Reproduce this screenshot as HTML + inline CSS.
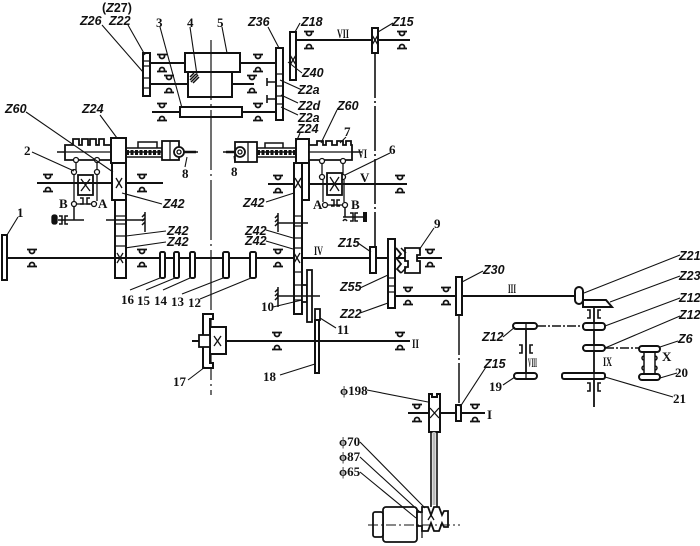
<!DOCTYPE html>
<html><head><meta charset="utf-8"><style>
html,body{margin:0;padding:0;background:#fff;}
svg{display:block;}
text{font-family:"Liberation Sans",sans-serif;font-weight:bold;font-size:12.5px;fill:#111;}
.r{font-family:"Liberation Serif",serif;font-weight:bold;font-size:13px;}
.z{font-style:italic;}
</style></head><body>
<svg width="700" height="546" viewBox="0 0 700 546" xmlns="http://www.w3.org/2000/svg">
<defs>
<g id="b" fill="none" stroke="#111" stroke-width="1.8"><path d="M-5,-8.5h10M-2.5,-8.5v1.5a2.5,2.5 0 0 0 5,0v-1.5M-5,8.5h10M-2.5,8.5v-1.5a2.5,2.5 0 0 1 5,0v1.5"/></g>
<g id="c" fill="none" stroke="#111" stroke-width="1.6"><path d="M-7,-4h3v8h-3M7,-4h-3v8h3"/></g>
</defs>
<g stroke="#111" fill="none" stroke-width="1.3">
<!-- ===== TOP ===== -->
<line x1="150" y1="63" x2="185" y2="63" stroke-width="2"/>
<line x1="237" y1="63" x2="276" y2="63" stroke-width="2"/>
<line x1="150" y1="84" x2="188" y2="84" stroke-width="2"/>
<line x1="232" y1="84" x2="254" y2="84" stroke-width="2"/>
<line x1="152" y1="112" x2="180" y2="112" stroke-width="2"/>
<line x1="242" y1="112" x2="276" y2="112" stroke-width="2"/>
<rect x="143" y="53" width="7" height="43" fill="#fff" stroke-width="2"/>
<path d="M143,61h7M143,66h7M143,78h7M143,88h7"/>
<rect x="185" y="53" width="55" height="19" fill="#fff" stroke-width="2"/>
<rect x="188" y="72" width="44" height="25" fill="#fff" stroke-width="2"/>
<path d="M190,80l6,-6M191,82l7,-7M193,83l6,-6M190,77l4,-4" stroke-width="1.5"/>
<rect x="180" y="107" width="62" height="10" fill="#fff" stroke-width="2"/>
<!-- Z36 / Z18 -->
<rect x="276" y="48" width="7" height="72" fill="#fff" stroke-width="2"/>
<path d="M276,74h7M276,86h7M276,96h7M276,104h7"/>
<path d="M267,82h9M267,78v8M267,99h9M267,95v8" stroke-width="1.6"/>
<rect x="290" y="32" width="6" height="48" fill="#fff" stroke-width="2"/>
<path d="M290,55l6,10M296,55l-6,10"/>
<line x1="296" y1="40" x2="410" y2="40" stroke-width="2"/>
<rect x="372" y="28" width="6" height="25" fill="#fff" stroke-width="2"/>
<path d="M372,35l6,10M378,35l-6,10"/>
<line x1="375" y1="53" x2="375" y2="247" stroke-width="1.6" stroke-dasharray="45 3 2 3"/>
<!-- center line -->
<line x1="211" y1="40" x2="211" y2="395" stroke-width="1.2" stroke-dasharray="60 4 2 4"/>

<!-- ===== LEFT FEED ROD ===== -->
<line x1="57" y1="152" x2="198" y2="152" stroke-width="1.5"/>
<path d="M65,145h8v-6h6v6h3v-6h6v6h2v-6h6v6h3v-6h5v6h7v15h-46z" fill="#fff" stroke-width="1.8"/>
<line x1="65" y1="152" x2="111" y2="152" stroke-width="1.3"/>
<rect x="111" y="138" width="15" height="25" fill="#fff" stroke-width="2"/>
<path d="M126,148h36M126,157h36" stroke-width="1.5"/>
<line x1="126" y1="152.5" x2="162" y2="152.5" stroke-width="5" stroke-dasharray="3 1.5"/>
<path d="M138,148v-6h19v6" stroke-width="1.5"/>
<rect x="162" y="141" width="17" height="19" fill="#fff" stroke-width="1.8"/>
<line x1="170" y1="141" x2="170" y2="160"/>
<circle cx="179" cy="152" r="5" fill="#fff" stroke-width="1.8"/>
<circle cx="179" cy="152" r="2"/>
<line x1="184" y1="152" x2="196" y2="152" stroke-width="2.5"/>
<circle cx="76" cy="160" r="2.5" fill="#fff"/><circle cx="97" cy="160" r="2.5" fill="#fff"/>
<path d="M76,162v8M97,162v8"/>
<circle cx="74" cy="172" r="2.5" fill="#fff"/><circle cx="97" cy="172" r="2.5" fill="#fff"/>
<path d="M74,175v26M97,175v26"/>
<rect x="78" y="175" width="15" height="20" fill="#fff" stroke-width="1.8"/>
<path d="M81,179l9,12M90,179l-9,12"/>
<circle cx="74" cy="204" r="2.5" fill="#fff"/><circle cx="94" cy="204" r="2.5" fill="#fff"/>
<path d="M77,204h14"/>
<path d="M80,198h3v6h-3M90,198h-3v6h3" stroke-width="1.5"/>
<path d="M74,207v13M58,220h26" stroke-width="1.5"/>
<rect x="52" y="215" width="5" height="9" rx="2" fill="#111"/>
<path d="M59,216h3v8h-3M68,216h-3v8h3" stroke-width="1.5"/>
<!-- shaft V left -->
<line x1="37" y1="183" x2="163" y2="183" stroke-width="2"/>
<!-- left Z42 column -->
<rect x="112" y="163" width="14" height="37" fill="#fff" stroke-width="2"/>
<rect x="115" y="200" width="11" height="78" fill="#fff" stroke-width="2"/>
<path d="M116,178l6,10M122,178l-6,10"/>
<path d="M115,216h11M115,224h11M115,236h11M115,246h11"/>
<path d="M117,253l6,10M123,253l-6,10"/>
<line x1="106" y1="220" x2="144" y2="220" stroke-width="1.5"/>
<path d="M145,212v20M145,214l-3,3M145,218l-3,3M145,222l-3,3" stroke-width="1.5"/>
<!-- shaft IV -->
<line x1="7" y1="258" x2="442" y2="258" stroke-width="2"/>
<rect x="2" y="235" width="5" height="45" fill="#fff" stroke-width="2"/>
<rect x="160" y="252" width="5" height="26" rx="1.5" fill="#fff" stroke-width="2"/>
<rect x="174" y="252" width="5" height="26" rx="1.5" fill="#fff" stroke-width="2"/>
<rect x="190" y="252" width="5" height="26" rx="1.5" fill="#fff" stroke-width="2"/>
<rect x="223" y="252" width="6" height="26" rx="1.5" fill="#fff" stroke-width="2"/>
<rect x="250" y="252" width="6" height="26" rx="1.5" fill="#fff" stroke-width="2"/>

<!-- ===== RIGHT FEED ROD ===== -->
<line x1="223" y1="152" x2="362" y2="152" stroke-width="1.5"/>
<rect x="235" y="142" width="22" height="20" fill="#fff" stroke-width="1.8"/>
<line x1="248" y1="142" x2="248" y2="162"/>
<circle cx="240" cy="152" r="5" fill="#fff" stroke-width="1.8"/>
<circle cx="240" cy="152" r="2"/>
<line x1="226" y1="152" x2="235" y2="152" stroke-width="2.5"/>
<path d="M257,148h39M257,157h39" stroke-width="1.5"/>
<line x1="257" y1="152.5" x2="296" y2="152.5" stroke-width="5" stroke-dasharray="3 1.5"/>
<path d="M265,148v-5h18v5" stroke-width="1.5"/>
<rect x="296" y="139" width="13" height="24" fill="#fff" stroke-width="2"/>
<path d="M309,145h8v-4h6v4h3v-4h6v4h5v-4h6v4h3v-4h5v4h1v15h-43z" fill="#fff" stroke-width="1.8"/>
<line x1="309" y1="152" x2="352" y2="152"/>
<circle cx="322" cy="161" r="2.5" fill="#fff"/><circle cx="343" cy="161" r="2.5" fill="#fff"/>
<path d="M322,164v11M343,164v11"/>
<circle cx="322" cy="177" r="2.5" fill="#fff"/><circle cx="343" cy="177" r="2.5" fill="#fff"/>
<path d="M323,180v22M344,180v22"/>
<rect x="327" y="173" width="15" height="22" fill="#fff" stroke-width="1.8"/>
<path d="M330,177l9,14M339,177l-9,14"/>
<circle cx="325" cy="205" r="2.5" fill="#fff"/><circle cx="345" cy="205" r="2.5" fill="#fff"/>
<path d="M328,205h14"/>
<path d="M331,200h3v6h-3M340,200h-3v6h3" stroke-width="1.5"/>
<path d="M345,208v9M343,217h20M343,221q2,-3 4,0" stroke-width="1.5"/>
<path d="M350,213h3v8h-3M358,213h-3v8h3" stroke-width="1.5"/>
<rect x="363" y="212" width="4" height="10" fill="#111" stroke="none"/>
<!-- shaft V right -->
<line x1="268" y1="184" x2="407" y2="184" stroke-width="2"/>
<!-- right Z42 column -->
<rect x="302" y="163" width="7" height="37" fill="#fff" stroke-width="2"/>
<rect x="294" y="163" width="8" height="151" fill="#fff" stroke-width="2"/>
<path d="M295,178l6,10M301,178l-6,10"/>
<path d="M294,216h8M294,226h8M294,238h8M294,248h8M294,272h8M294,285h8M294,300h8"/>
<path d="M294,253l6,10M300,253l-6,10"/>
<line x1="277" y1="223" x2="308" y2="223" stroke-width="1.5"/>
<path d="M278,213v19M278,215l-3,3M278,219l-3,3M278,223l-3,3" stroke-width="1.5"/>
<rect x="302" y="285" width="5" height="17" fill="#fff" stroke-width="1.8"/>
<rect x="307" y="270" width="5" height="52" fill="#fff" stroke-width="1.8"/>
<line x1="277" y1="296" x2="320" y2="296" stroke-width="1.5"/>
<path d="M278,287v20M278,289l-3,3M278,293l-3,3M278,297l-3,3" stroke-width="1.5"/>
<rect x="315" y="309" width="5" height="11" fill="#fff" stroke-width="1.8"/>
<rect x="315" y="320" width="4" height="53" fill="#fff" stroke-width="2"/>

<!-- shaft II -->
<line x1="192" y1="341" x2="410" y2="341" stroke-width="2"/>
<path d="M213,314h-10v54h10v-5h-3v-44h3z" fill="#fff" stroke-width="2"/>
<rect x="210" y="327" width="16" height="27" fill="#fff" stroke-width="2"/>
<path d="M214,336l7,10M221,336l-7,10"/>
<rect x="199" y="335" width="11" height="12" fill="#fff" stroke-width="1.8"/>

<!-- ===== RIGHT LOWER ===== -->
<rect x="370" y="247" width="6" height="26" fill="#fff" stroke-width="2"/>
<rect x="388" y="239" width="7" height="69" fill="#fff" stroke-width="2"/>
<path d="M388,278h7M388,286h7M388,292h7"/>
<path d="M396,248l5,6l-4,5l4,5l-4,5l4,4" stroke-width="1.8"/>
<path d="M405,248h15v7h-3v6h3v12h-15v-6h3v-6h-3z" fill="#fff" stroke-width="1.8"/>
<path d="M401,248l5,5M401,273l5,-5" stroke-width="1.5"/>
<!-- shaft III -->
<line x1="395" y1="296" x2="577" y2="296" stroke-width="2"/>
<rect x="456" y="277" width="6" height="38" fill="#fff" stroke-width="2"/>
<line x1="459" y1="315" x2="459" y2="405" stroke-width="1.5" stroke-dasharray="40 3 2 3"/>
<!-- bevel -->
<rect x="575" y="287" width="8" height="17" rx="4" fill="#fff" stroke-width="2"/>
<path d="M583,307v-7h23l6,7z" fill="#fff" stroke-width="2"/>
<use href="#c" x="594" y="314"/>
<line x1="594" y1="307" x2="594" y2="407" stroke-width="1.8"/>
<rect x="583" y="323" width="22" height="7" rx="3" fill="#fff" stroke-width="2"/>
<rect x="583" y="345" width="22" height="6" rx="3" fill="#fff" stroke-width="2"/>
<rect x="562" y="373" width="43" height="6" rx="2" fill="#fff" stroke-width="2"/>
<path d="M594,323v7M594,345v6M594,373v6"/>
<use href="#c" x="594" y="387"/>
<line x1="526" y1="323" x2="526" y2="379" stroke-width="1.8"/>
<rect x="513" y="323" width="24" height="6" rx="3" fill="#fff" stroke-width="2"/>
<rect x="514" y="373" width="23" height="6" rx="3" fill="#fff" stroke-width="2"/>
<path d="M526,323v6M526,373v6"/>
<use href="#c" x="526" y="349"/>
<line x1="537" y1="326" x2="583" y2="326" stroke-width="1.6" stroke-dasharray="9 2 2 2"/>
<line x1="605" y1="348" x2="639" y2="348" stroke-width="1.6" stroke-dasharray="9 2 2 2"/>
<rect x="639" y="346" width="21" height="6" rx="3" fill="#fff" stroke-width="2"/>
<rect x="639" y="374" width="21" height="6" rx="3" fill="#fff" stroke-width="2"/>
<path d="M644,352v22M655,352v22M644,356a2,2 0 1 0 0,4M655,356a2,2 0 1 1 0,4M644,366a2,2 0 1 0 0,4M655,366a2,2 0 1 1 0,4" stroke-width="1.5"/>

<!-- shaft I -->
<line x1="408" y1="413" x2="485" y2="413" stroke-width="2"/>
<path d="M429,394h3v3h5v-3h3v38h-11z" fill="#fff" stroke-width="2"/>
<path d="M430,408l9,10M439,408l-9,10"/>
<rect x="456" y="405" width="5" height="16" fill="#fff" stroke-width="2"/>
<path d="M431,432v75M437,432v75" stroke-width="1.6"/>
<line x1="434" y1="432" x2="434" y2="505" stroke="#bbb" stroke-width="3"/>
<!-- motor -->
<rect x="383" y="507" width="34" height="35" rx="3" fill="#fff" stroke-width="1.8"/>
<rect x="373" y="512" width="10" height="25" rx="2" fill="#fff" stroke-width="1.8"/>
<path d="M417,512h5v-5h6l3,8l3,-8h5l3,8l2,-4h4v16h-4l-2,-4l-3,8h-5l-3,-8l-3,8h-6v-5h-5z" fill="#fff" stroke-width="1.8"/>
<path d="M422,512v26M428,520l3,-5l3,5" />
<line x1="368" y1="525" x2="460" y2="525" stroke-width="1" stroke-dasharray="10 3 2 3"/>

<!-- leaders -->
<g stroke-width="1.1">
<path d="M102,25L143,72M128,25L145,55M160,27L182,108M190,27L197,75M222,27L227,53"/>
<path d="M268,27L279,48M300,23L295,32M393,23L378,32M302,73L288,62M302,90L280,80M298,103L281,95M298,115L281,107"/>
<path d="M337,110L321,143M300,133L297,140M346,137L340,143M390,153L345,175M235,163L234,156M185,167L187,157"/>
<path d="M26,112L113,172M100,115L117,138M32,152L74,171"/>
<path d="M162,204L122,193M166,231L126,236M166,242L125,248M18,217L7,235"/>
<path d="M130,290L160,278M146,290L175,278M163,290L190,278M182,294L223,278M200,299L251,278"/>
<path d="M266,202L294,193M266,230L293,238M266,241L293,249"/>
<path d="M358,243L371,252M434,228L419,250M360,288L388,275M360,313L388,303"/>
<path d="M273,307L302,300M336,328L320,318M280,375L315,364M188,380L205,367M367,390L428,402"/>
<path d="M483,271L462,282M680,255L584,293M680,276L610,302M680,298L605,326M680,316L605,348"/>
<path d="M678,341L660,347M677,373L660,378M673,397L605,377"/>
<path d="M503,337L515,327M486,367L460,407M503,385L515,377"/>
<path d="M360,442L425,508M360,457L421,513M360,472L416,518"/>
</g>
</g>
<!-- bearings -->
<use href="#b" x="162" y="63"/><use href="#b" x="169" y="84"/><use href="#b" x="162" y="112"/>
<use href="#b" x="258" y="63"/><use href="#b" x="252" y="84"/><use href="#b" x="258" y="112"/>
<use href="#b" x="309" y="40"/><use href="#b" x="402" y="40"/>
<use href="#b" x="48" y="183"/><use href="#b" x="142" y="183"/>
<use href="#b" x="278" y="184"/><use href="#b" x="400" y="184"/>
<use href="#b" x="32" y="258"/><use href="#b" x="142" y="258"/><use href="#b" x="278" y="258"/><use href="#b" x="430" y="258"/>
<use href="#b" x="408" y="296"/><use href="#b" x="446" y="296"/>
<use href="#b" x="277" y="341"/><use href="#b" x="400" y="341"/>
<use href="#b" x="417" y="413"/><use href="#b" x="475" y="413"/>

<!-- labels -->
<text x="102" y="12">(<tspan class="z">Z</tspan>27)</text>
<text x="80" y="25" class="z">Z26</text>
<text x="109" y="25" class="z">Z22</text>
<text x="156" y="27" class="r">3</text>
<text x="187" y="27" class="r">4</text>
<text x="217" y="27" class="r">5</text>
<text x="248" y="26" class="z">Z36</text>
<text x="301" y="26" class="z">Z18</text>
<text x="392" y="26" class="z">Z15</text>
<text x="337" y="38" class="r" textLength="12" lengthAdjust="spacingAndGlyphs">VII</text>
<text x="302" y="77" class="z">Z40</text>
<text x="298" y="94" class="z">Z2a</text>
<text x="298" y="110" class="z">Z2d</text>
<text x="298" y="122" class="z">Z2a</text>
<text x="337" y="110" class="z">Z60</text>
<text x="297" y="133" class="z">Z24</text>
<text x="344" y="136" class="r">7</text>
<text x="389" y="154" class="r">6</text>
<text x="358" y="158" class="r" textLength="9" lengthAdjust="spacingAndGlyphs">VI</text>
<text x="360" y="182" class="r">V</text>
<text x="231" y="176" class="r">8</text>
<text x="182" y="178" class="r">8</text>
<text x="5" y="113" class="z">Z60</text>
<text x="82" y="113" class="z">Z24</text>
<text x="24" y="155" class="r">2</text>
<text x="59" y="208" class="r">B</text>
<text x="98" y="208" class="r">A</text>
<text x="313" y="209" class="r">A</text>
<text x="351" y="209" class="r">B</text>
<text x="163" y="208" class="z">Z42</text>
<text x="167" y="235" class="z">Z42</text>
<text x="167" y="246" class="z">Z42</text>
<text x="17" y="217" class="r">1</text>
<text x="121" y="304" class="r">16</text>
<text x="137" y="305" class="r">15</text>
<text x="154" y="305" class="r">14</text>
<text x="171" y="306" class="r">13</text>
<text x="188" y="307" class="r">12</text>
<text x="243" y="207" class="z">Z42</text>
<text x="245" y="235" class="z">Z42</text>
<text x="245" y="245" class="z">Z42</text>
<text x="314" y="255" class="r" textLength="9" lengthAdjust="spacingAndGlyphs">IV</text>
<text x="338" y="247" class="z">Z15</text>
<text x="434" y="228" class="r">9</text>
<text x="340" y="291" class="z">Z55</text>
<text x="340" y="318" class="z">Z22</text>
<text x="261" y="311" class="r">10</text>
<text x="337" y="334" class="r">11</text>
<text x="412" y="348" class="r" textLength="7" lengthAdjust="spacingAndGlyphs">II</text>
<text x="263" y="381" class="r">18</text>
<text x="173" y="386" class="r">17</text>
<text x="340" y="395" class="r">ϕ198</text>
<text x="483" y="274" class="z">Z30</text>
<text x="508" y="293" class="r" textLength="8" lengthAdjust="spacingAndGlyphs">III</text>
<text x="679" y="260" class="z">Z21</text>
<text x="679" y="280" class="z">Z23</text>
<text x="679" y="302" class="z">Z12</text>
<text x="679" y="319" class="z">Z12</text>
<text x="678" y="343" class="z">Z6</text>
<text x="662" y="361" class="r">X</text>
<text x="675" y="377" class="r">20</text>
<text x="673" y="403" class="r">21</text>
<text x="603" y="366" class="r" textLength="9" lengthAdjust="spacingAndGlyphs">IX</text>
<text x="528" y="367" class="r" textLength="9" lengthAdjust="spacingAndGlyphs">VIII</text>
<text x="482" y="341" class="z">Z12</text>
<text x="484" y="368" class="z">Z15</text>
<text x="489" y="391" class="r">19</text>
<text x="487" y="419" class="r">I</text>
<text x="339" y="446" class="r">ϕ70</text>
<text x="339" y="461" class="r">ϕ87</text>
<text x="339" y="476" class="r">ϕ65</text>
</svg>
</body></html>
